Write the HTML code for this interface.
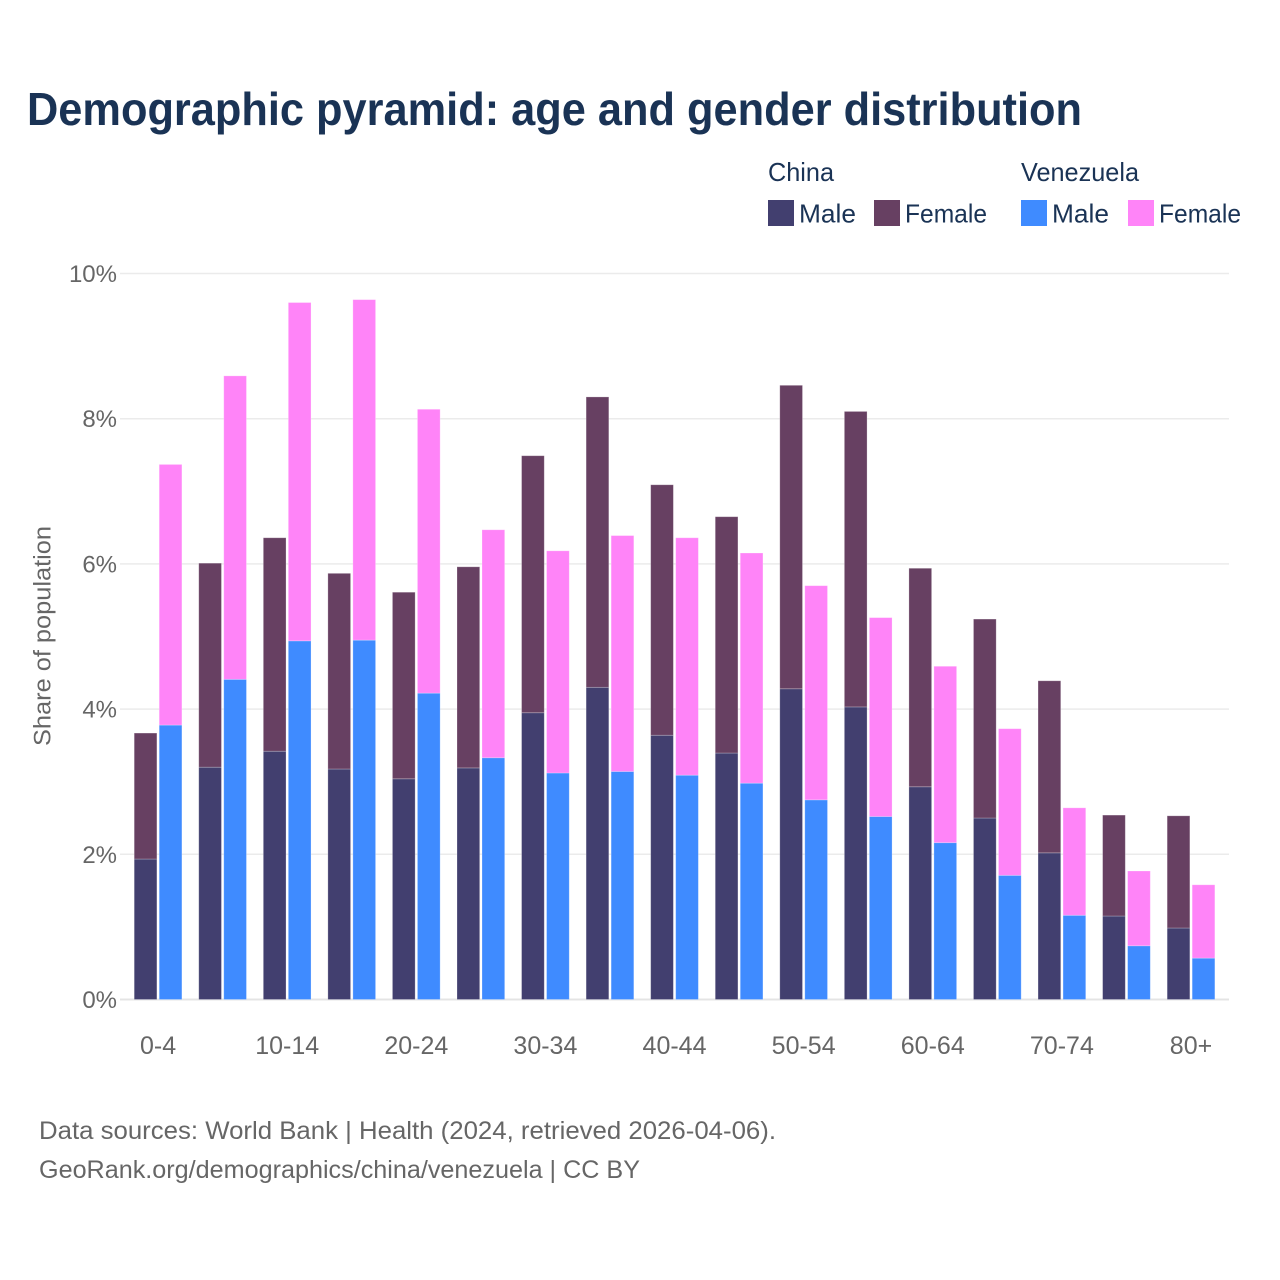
<!DOCTYPE html>
<html lang="en">
<head>
<meta charset="utf-8">
<title>Demographic pyramid</title>
<style>
html,body{margin:0;padding:0;background:#fff}
svg{display:block;font-family:"Liberation Sans",sans-serif}
</style>
</head>
<body>
<svg id="chart" width="1280" height="1280" viewBox="0 0 1280 1280" xmlns="http://www.w3.org/2000/svg">
  <rect width="1280" height="1280" fill="#fff"/>
  <text x="27" y="125" font-size="46" font-weight="700" fill="#1a3355" textLength="1055" lengthAdjust="spacingAndGlyphs">Demographic pyramid: age and gender distribution</text>

  <g font-size="26" fill="#1a3355">
    <text x="768" y="181" textLength="66" lengthAdjust="spacingAndGlyphs">China</text>
    <text x="1021" y="181" textLength="118" lengthAdjust="spacingAndGlyphs">Venezuela</text>
    <rect x="768" y="200" width="26" height="26" fill="#423f6f"/>
    <text x="799" y="222.5" textLength="57" lengthAdjust="spacingAndGlyphs">Male</text>
    <rect x="874" y="200" width="26" height="26" fill="#674062"/>
    <text x="905" y="222.5" textLength="82" lengthAdjust="spacingAndGlyphs">Female</text>
    <rect x="1021" y="200" width="26" height="26" fill="#3f8bff"/>
    <text x="1052" y="222.5" textLength="57" lengthAdjust="spacingAndGlyphs">Male</text>
    <rect x="1128" y="200" width="26" height="26" fill="#ff84f8"/>
    <text x="1159" y="222.5" textLength="82" lengthAdjust="spacingAndGlyphs">Female</text>
  </g>

  <g id="grid"></g>
  <g id="bars"></g>
  <g id="yticks"></g>
  <g id="xticks"></g>

  <text transform="translate(50.5,636) rotate(-90)" text-anchor="middle" font-size="24" fill="#666" textLength="220" lengthAdjust="spacingAndGlyphs">Share of population</text>

  <text x="39" y="1139" font-size="25" fill="#666" textLength="737" lengthAdjust="spacingAndGlyphs">Data sources: World Bank | Health (2024, retrieved 2026-04-06).</text>
  <text x="39" y="1178" font-size="25" fill="#666" textLength="601" lengthAdjust="spacingAndGlyphs">GeoRank.org/demographics/china/venezuela | CC BY</text>
</svg>
<script>
const ageGroups = ["0-4","5-9","10-14","15-19","20-24","25-29","30-34","35-39","40-44","45-49","50-54","55-59","60-64","65-69","70-74","75-79","80+"];
const xTickLabels = ["0-4","","10-14","","20-24","","30-34","","40-44","","50-54","","60-64","","70-74","","80+"];
const yTickValues = [0,2,4,6,8,10];
const chinaMale = [1.935,3.20,3.42,3.175,3.04,3.19,3.95,4.30,3.64,3.395,4.28,4.03,2.93,2.50,2.02,1.15,0.985];
const chinaFemale = [1.735,2.81,2.94,2.695,2.57,2.77,3.54,4.00,3.45,3.255,4.18,4.07,3.01,2.74,2.37,1.39,1.545];
const venezuelaMale = [3.78,4.41,4.94,4.95,4.22,3.33,3.12,3.14,3.09,2.98,2.75,2.52,2.16,1.71,1.16,0.74,0.57];
const venezuelaFemale = [3.59,4.18,4.66,4.69,3.91,3.14,3.06,3.25,3.27,3.17,2.95,2.74,2.43,2.02,1.48,1.03,1.01];

const NS = "http://www.w3.org/2000/svg";
const yScale = function (v) { return 999.5 - v * 72.6; };
const xCenter = function (i) { return 158.05 + i * 64.56; };
const barWidth = 22.7;

function make(tag, attrs, parent) {
  const el = document.createElementNS(NS, tag);
  for (const k in attrs) el.setAttribute(k, attrs[k]);
  parent.appendChild(el);
  return el;
}

const gridG = document.getElementById("grid");
const yG = document.getElementById("yticks");
yTickValues.forEach(function (v) {
  const line = make("line", {x1: 120, x2: 1229, y1: yScale(v), y2: yScale(v), stroke: v === 0 ? "#e4e4e4" : "#ebebeb", "stroke-width": v === 0 ? 2 : 1.5}, gridG);
  
  
  const t = make("text", {x: 117, y: yScale(v) + 8.5, "text-anchor": "end", "font-size": 24, fill: "#666"}, yG);
  
  
  t.textContent = v + "%";
});

const xG = document.getElementById("xticks");
xTickLabels.forEach(function (label, i) {
  if (!label) return;
  const t = make("text", {x: xCenter(i), y: 1054, "text-anchor": "middle", "font-size": 25, fill: "#666"}, xG);
  
  
  t.textContent = label;
});

const barsG = document.getElementById("bars");
function drawSegment(x, low, high, color, title) {
  const r = make("rect", {
    x: x,
    y: yScale(high),
    width: barWidth,
    height: yScale(low) - yScale(high),
    fill: color,
    stroke: "#fff",
    "stroke-opacity": 0.3,
    "stroke-width": 0.8
  }, barsG);
  
  
  const tt = make("title", {}, r);
  tt.textContent = title;
}

ageGroups.forEach(function (age, i) {
  const left = xCenter(i) - 23.85;
  const right = xCenter(i) + 1.15;
  drawSegment(left, 0, chinaMale[i], "#423f6f", "China male " + age);
  drawSegment(left, chinaMale[i], chinaMale[i] + chinaFemale[i], "#674062", "China female " + age);
  drawSegment(right, 0, venezuelaMale[i], "#3f8bff", "Venezuela male " + age);
  drawSegment(right, venezuelaMale[i], venezuelaMale[i] + venezuelaFemale[i], "#ff84f8", "Venezuela female " + age);
});
</script>
</body>
</html>
